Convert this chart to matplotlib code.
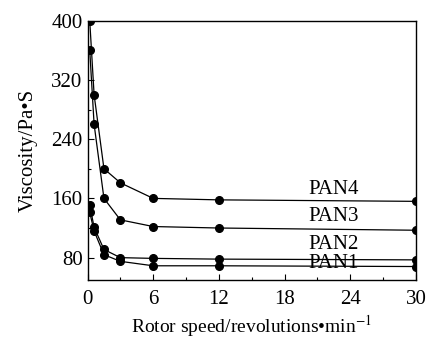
import numpy as np
import matplotlib
matplotlib.use("Agg")
import matplotlib.pyplot as plt

plt.rcParams['font.family'] = ['Liberation Serif', 'DejaVu Serif']
plt.rcParams['mathtext.fontset'] = 'stix'

# datos leidos da figura
speed = [0.2, 0.6, 1.5, 3, 6, 12, 30]
pan4 = [400, 300, 200, 181, 160, 158, 156]
pan3 = [360, 260, 160, 131, 122, 120, 117]
pan2 = [151, 121, 91, 80, 79, 78, 77]
pan1 = [141, 116, 84, 75, 69, 69, 68]

series = [pan1, pan2, pan3, pan4]
labels = ["PAN1", "PAN2", "PAN3", "PAN4"]
label_y = [71.5, 98, 136, 172]

fig = plt.figure(figsize=(4.27, 3.38), dpi=100)
ax = fig.add_axes([0.205, 0.172, 0.769, 0.767])

for ys in series:
    ax.plot(speed, ys, color='black', lw=0.9, marker='o', ms=5.5)

for lab, yy in zip(labels, label_y):
    ax.text(22.5, yy, lab, fontsize=15, ha='center', va='center')

ax.set_xlim(0, 30)
ax.set_ylim(50, 400)
ax.set_xticks([0, 6, 12, 18, 24, 30])
ax.set_xticks(np.arange(3, 30, 6), minor=True)
ax.set_yticks([80, 160, 240, 320, 400])
ax.set_yticks([120, 200, 280, 360], minor=True)
ax.tick_params(direction='in', labelsize=15, length=4, width=0.8)
ax.tick_params(axis='x', pad=7)
ax.tick_params(which='minor', direction='in', length=2.5, width=0.8)
for s in ax.spines.values():
    s.set_linewidth(1.0)

ax.set_xlabel("Rotor speed/revolutions\u2022min$^{-1}$", fontsize=14, labelpad=3)
ax.set_ylabel("Viscosity/Pa\u2022S", fontsize=15, labelpad=10)

fig.savefig("out.png", dpi=100)
